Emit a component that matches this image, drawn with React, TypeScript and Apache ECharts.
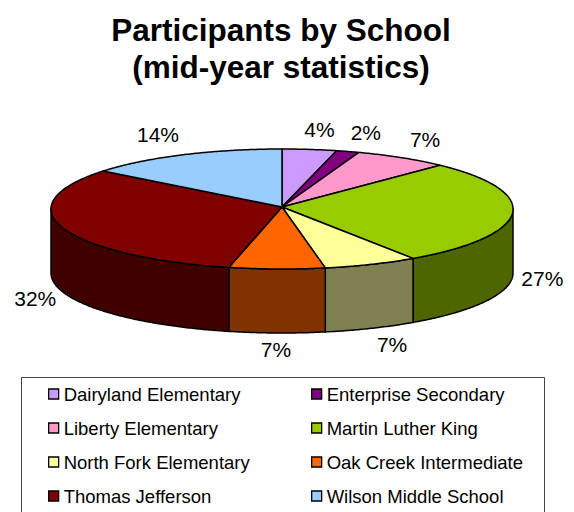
import React, { useEffect, useRef } from "react";
import * as echarts from "echarts";

const titleLines = ["Participants by School", "(mid-year statistics)"];
const schools = [
  "Dairyland Elementary",
  "Enterprise Secondary",
  "Liberty Elementary",
  "Martin Luther King",
  "North Fork Elementary",
  "Oak Creek Intermediate",
  "Thomas Jefferson",
  "Wilson Middle School",
];
const shares = [3.8, 1.6, 6.6, 28.4, 6.6, 6.7, 32.2, 14.1];
const shareLabels = ["4%", "2%", "7%", "27%", "7%", "7%", "32%", "14%"];
const topColors = ["#CC99FF", "#800080", "#FF99CC", "#99CC00", "#FFFF99", "#FF6600", "#800000", "#99CCFF"];
const wallColors = ["#66408F", "#400040", "#804D66", "#4D6600", "#808050", "#803300", "#400000", "#4D6680"];
const labelNudges = [
  [10, -20], [18, -19], [23, -18], [30, 65], [21, 80], [-1, 81], [-28, 70], [-25, -20],
];

const CX = 282;
const HUB_Y = 207;
const CY = 209;
const RX = 231;
const RY = 60;
const DEPTH = 64;
const FONT = '"Liberation Sans", Arial, sans-serif';
const total = shares.reduce((a, b) => a + b, 0);

const rim = (deg: number, drop = 0): number[] => {
  const r = (deg * Math.PI) / 180;
  return [CX + RX * Math.sin(r), CY - RY * Math.cos(r) + drop];
};
const arc = (from: number, to: number, drop = 0): number[][] => {
  const n = Math.max(2, Math.ceil((to - from) / 0.5));
  const pts: number[][] = [];
  for (let i = 0; i <= n; i++) pts.push(rim(from + ((to - from) * i) / n, drop));
  return pts;
};

const makeRenderItem = (idx: number) => () => {
  const before = shares.slice(0, idx).reduce((a, b) => a + b, 0);
  const start = (before / total) * 360;
  const end = ((before + shares[idx]) / total) * 360;
  const children: any[] = [];
  const wFrom = Math.max(start, 90);
  const wTo = Math.min(end, 270);
  const line = { stroke: "#000", lineWidth: 1.5, lineJoin: "round" };
  if (wTo > wFrom) {
    children.push({
      type: "polygon",
      shape: { points: [...arc(wFrom, wTo), ...arc(wFrom, wTo, DEPTH).reverse()] },
      style: { fill: wallColors[idx], ...line },
    });
  }
  children.push({
    type: "polygon",
    shape: { points: [[CX, HUB_Y], ...arc(start, end)] },
    style: { fill: topColors[idx], ...line },
  });
  const p = rim((start + end) / 2);
  children.push({
    type: "text",
    style: {
      text: shareLabels[idx],
      x: p[0] + labelNudges[idx][0],
      y: p[1] + labelNudges[idx][1],
      align: "center",
      verticalAlign: "middle",
      font: `21px ${FONT}`,
      fill: "#000",
    },
  });
  return { type: "group", children };
};

const legendBase = {
  orient: "vertical",
  icon: "rect",
  itemWidth: 10,
  itemHeight: 10,
  itemGap: 14,
  top: 384,
  selectedMode: false,
  padding: 0,
  itemStyle: { borderColor: "#000", borderWidth: 1.3 },
  textStyle: { fontFamily: FONT, fontSize: 18.5, color: "#000", height: 20, lineHeight: 20 },
};

export default function App() {
  const ref = useRef<HTMLDivElement>(null);
  useEffect(() => {
    document.body.style.margin = "0";
    const chart = echarts.init(ref.current!, null, { renderer: "svg" });
    chart.setOption({
      animation: false,
      backgroundColor: "#fff",
      title: titleLines.map((t, i) => ({
        text: t,
        left: 281,
        top: 31 + i * 37 - 17,
        textAlign: "center",
        padding: 0,
        textStyle: { fontFamily: FONT, fontSize: 31.5, fontWeight: "bold", color: "#000" },
      })),
      legend: [
        { ...legendBase, left: 48, data: schools.filter((_, i) => i % 2 === 0) },
        { ...legendBase, left: 311, data: schools.filter((_, i) => i % 2 === 1) },
      ],
      graphic: [
        {
          type: "rect",
          z: -1,
          shape: { x: 21.5, y: 377.5, width: 523, height: 150 },
          style: { fill: "#fff", stroke: "#444", lineWidth: 1 },
        },
      ],
      series: schools.map((name, i) => ({
        type: "custom",
        name,
        coordinateSystem: "none",
        silent: true,
        itemStyle: { color: topColors[i] },
        data: [[shares[i]]],
        renderItem: makeRenderItem(i),
      })),
    });
    return () => chart.dispose();
  }, []);
  return <div ref={ref} style={{ width: 574, height: 512, overflow: "hidden" }} />;
}
